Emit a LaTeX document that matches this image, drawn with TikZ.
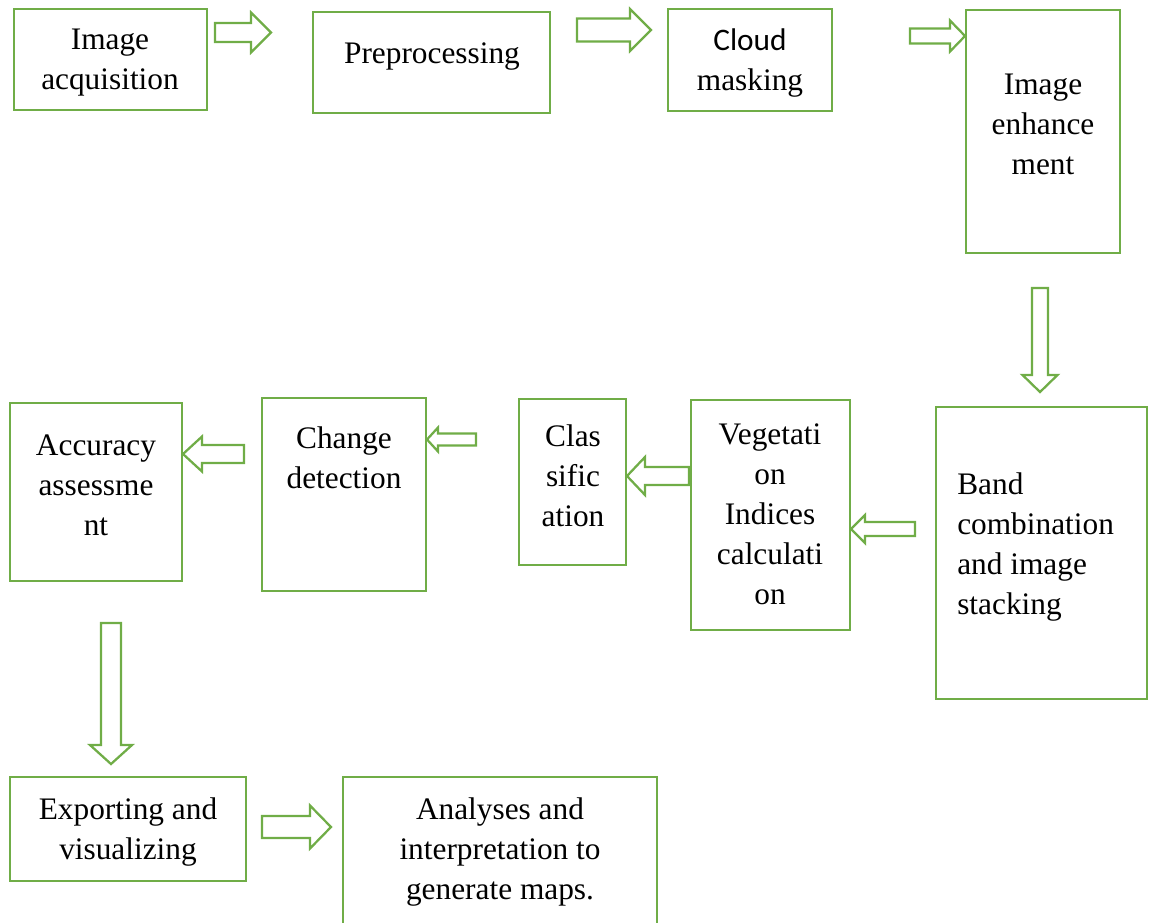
\documentclass[tikz,border=0pt]{standalone}
\usepackage{fontspec}
\setmainfont{Liberation Serif}
\newfontfamily\calibri{Carlito}
\usetikzlibrary{fit}
\definecolor{grn}{HTML}{70AD47}
\tikzset{
  box/.style={draw=grn, line width=1.8pt, inner sep=0pt},
  lbl/.style={align=center, inner sep=0pt, font=\fontsize{23.5}{30}\selectfont},
  blk/.style={draw=grn, line width=1.7pt, fill=white, line join=miter}
}
% horizontal block arrow: tail x, tip x, centre y, shaft half, head half, head length (signed)
\newcommand\harr[6]{%
  \draw[blk] ({#1},{#3-#4}) -- ({#2-(#6)},{#3-#4}) -- ({#2-(#6)},{#3-#5}) -- ({#2},{#3})
   -- ({#2-(#6)},{#3+#5}) -- ({#2-(#6)},{#3+#4}) -- ({#1},{#3+#4}) -- cycle;}
% vertical block arrow: centre x, tail y, tip y, shaft half, head half, head length
\newcommand\varr[6]{%
  \draw[blk] ({#1-#4},{#2}) -- ({#1-#4},{#3-(#6)}) -- ({#1-#5},{#3-(#6)}) -- ({#1},{#3})
   -- ({#1+#5},{#3-(#6)}) -- ({#1+#4},{#3-(#6)}) -- ({#1+#4},{#2}) -- cycle;}
\begin{document}
\begin{tikzpicture}[x=0.75pt,y=-0.75pt]
\useasboundingbox (0,0) rectangle (1151,922);
\clip (0,0) rectangle (1151,922);
% boxes
\node[box, fit={(14,9) (207,110)}] (b1) {};
\node[box, fit={(313,12) (550,113)}] (b2) {};
\node[box, fit={(668,9) (832,111)}] (b3) {};
\node[box, fit={(966,10) (1120,253)}] (b4) {};
\node[box, fit={(936,407) (1147,699)}] (b5) {};
\node[box, fit={(691,400) (850,630)}] (b6) {};
\node[box, fit={(519,399) (626,565)}] (b7) {};
\node[box, fit={(262,398) (426,591)}] (b8) {};
\node[box, fit={(10,403) (182,581)}] (b9) {};
\node[box, fit={(10,777) (246,881)}] (b10) {};
\node[box, fit={(343,777) (657,940)}] (b11) {};
% labels
\node[lbl] (t1) at (110,63) {Image\\acquisition};
\node[lbl] (t2) at (432,57) {Preprocessing};
\node[lbl] (t3) at (750,63) {{\calibri Cloud}\\masking};
\node[lbl] (t4) at (1043,124) {Image\\enhance\\ment};
\node[lbl, align=left, anchor=west] (t5) at (957,547) {Band\\combination\\and image\\stacking};
\node[lbl] (t6) at (770,514) {Vegetati\\on\\Indices\\calculati\\on};
\node[lbl] (t7) at (573,476) {Clas\\sific\\ation};
\node[lbl] (t8) at (344,458) {Change\\detection};
\node[lbl] (t9) at (96,485) {Accuracy\\assessme\\nt};
\node[lbl] (t10) at (128,832) {Exporting and\\visualizing};
\node[lbl] (t11) at (500,852) {Analyses and\\interpretation to\\generate maps.};
% block arrows
\harr{215}{271}{32.5}{9.5}{20}{20}
\harr{577}{651}{30}{11.5}{21}{21}
\harr{910}{965}{36}{7.5}{15.5}{15}
\varr{1040}{288}{392}{8}{17.5}{17}
\harr{915}{851}{529}{7}{14}{-14}
\harr{689}{627}{476}{9}{19}{-18}
\harr{476}{427}{439.5}{6}{12}{-11}
\harr{244}{183}{454}{9}{17.5}{-19}
\varr{111}{623}{764}{10}{21}{19}
\harr{262}{331}{827}{11}{21.5}{21}
\end{tikzpicture}
\end{document}
